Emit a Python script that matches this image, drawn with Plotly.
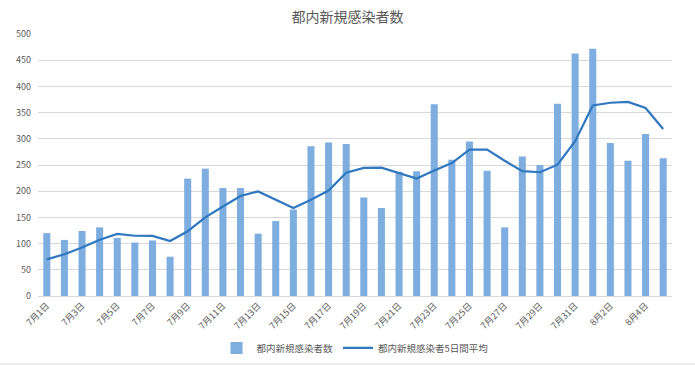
import plotly.graph_objects as go

dates = ["7月1日","7月2日","7月3日","7月4日","7月5日","7月6日","7月7日","7月8日","7月9日","7月10日",
         "7月11日","7月12日","7月13日","7月14日","7月15日","7月16日","7月17日","7月18日","7月19日","7月20日",
         "7月21日","7月22日","7月23日","7月24日","7月25日","7月26日","7月27日","7月28日","7月29日","7月30日",
         "7月31日","8月1日","8月2日","8月3日","8月4日","8月5日"]
new_cases = [120,107,124,131,111,102,106,75,224,243,
             206,206,119,143,165,286,293,290,188,168,
             237,238,366,260,295,239,131,266,250,367,
             463,472,292,258,309,263]
avg5 = [69.8,79.8,92.6,107.2,118.6,115.0,114.8,105.0,123.6,150.0,
        170.8,190.8,199.6,183.4,167.8,183.8,201.2,235.4,244.4,245.0,
        235.2,224.2,239.4,253.8,279.2,279.6,258.2,238.2,236.2,250.6,
        295.4,363.6,368.8,370.4,358.8,318.8]
tick_labels = dates[::2]

font = "Noto Sans CJK JP, sans-serif"
fig = go.Figure()
fig.add_trace(go.Bar(x=dates, y=new_cases, name="都内新規感染者数",
                     marker=dict(color="#7DAEDF", line=dict(width=0)), width=0.4))
fig.add_trace(go.Scatter(x=dates, y=avg5, name="都内新規感染者5日間平均", mode="lines",
                         line=dict(color="#2F78C0", width=2.2)))
fig.update_layout(
    width=695, height=366,
    margin=dict(l=38, r=23, t=34, b=70, autoexpand=False),
    paper_bgcolor="white", plot_bgcolor="white",
    title=dict(text="都内新規感染者数", x=0.5, xanchor="center", y=0.952, yanchor="middle",
               font=dict(family=font, size=14, color="#595959")),
    font=dict(family=font, color="#595959"),
    showlegend=True,
    legend=dict(orientation="h", x=0.5, xanchor="center", y=-0.198, yanchor="middle",
                font=dict(family=font, size=9.5, color="#595959"), traceorder="normal",
                itemwidth=30),
    xaxis=dict(type="category", tickmode="array", tickvals=tick_labels, ticktext=tick_labels,
               tickangle=-45, tickfont=dict(size=9, color="#595959"), showgrid=False,
               showline=True, linecolor="#d9d9d9", linewidth=1, ticks="", automargin=False),
    yaxis=dict(range=[0, 500], dtick=50, tickfont=dict(size=9, color="#595959"),
               gridcolor="#d9d9d9", gridwidth=1, zeroline=False, showline=False, ticks="",
               automargin=False, ticklabelstandoff=6),
    shapes=[dict(type="line", xref="paper", yref="paper", x0=-0.1, x1=1.1,
                 y0=-0.2595, y1=-0.2595, line=dict(color="#dcdcdc", width=1))],
)
fig.write_html("out.html")
